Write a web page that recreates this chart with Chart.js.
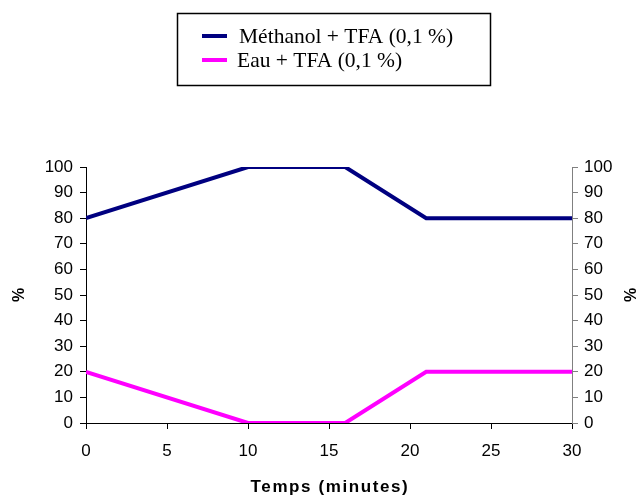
<!DOCTYPE html>
<html>
<head>
<meta charset="utf-8">
<script src="https://cdn.jsdelivr.net/npm/chart.js@4.4.0/dist/chart.umd.min.js"></script>
<style>
  html, body { margin: 0; padding: 0; background: #fff; }
  #wrap { width: 640px; height: 495px; position: relative; }
</style>
</head>
<body>
<div id="wrap"><canvas id="c" width="640" height="495"></canvas></div>
<script>
// Data
const timeMinutes = [0, 10, 16, 21, 30];
const methanolTFA = [80, 100, 100, 80, 80];
const eauTFA = [20, 0, 0, 20, 20];
const seriesLabels = ['Méthanol + TFA (0,1 %)', 'Eau + TFA (0,1 %)'];
const xTitle = 'Temps (minutes)';
const yTitle = '%';

const toPoints = (xs, ys) => xs.map((x, i) => ({ x: x, y: ys[i] }));

const boxLegend = {
  id: 'boxLegend',
  afterDraw(chart) {
    const ctx = chart.ctx;
    ctx.save();
    // legend box
    ctx.strokeStyle = '#000';
    ctx.lineWidth = 1.5;
    ctx.strokeRect(177.5, 13.5, 313, 72);
    ctx.font = '21.5px "Liberation Serif", "Times New Roman", serif';
    ctx.textBaseline = 'middle';
    ctx.textAlign = 'left';
    const rows = [
      { y: 36, textX: 239 },
      { y: 60, textX: 237 }
    ];
    chart.data.datasets.forEach((ds, i) => {
      const r = rows[i];
      ctx.strokeStyle = ds.borderColor;
      ctx.lineWidth = 4;
      ctx.beginPath();
      ctx.moveTo(202, r.y);
      ctx.lineTo(227, r.y);
      ctx.stroke();
      ctx.fillStyle = '#000';
      ctx.fillText(ds.label, r.textX, r.y + 1);
    });
    // right axis title, same orientation as the left one
    const y2 = chart.scales.y2;
    ctx.font = 'bold 16px "Liberation Sans", Arial, sans-serif';
    ctx.textAlign = 'center';
    ctx.textBaseline = 'middle';
    ctx.save();
    ctx.translate(632, (y2.top + y2.bottom) / 2);
    ctx.rotate(-Math.PI / 2);
    ctx.fillText(yTitle, 0, 0);
    ctx.restore();
    // x axis title with letter spacing
    const xs = chart.scales.x;
    ctx.font = 'bold 17px "Liberation Sans", Arial, sans-serif';
    ctx.letterSpacing = '1.6px';
    ctx.fillText(xTitle, (xs.left + xs.right) / 2 + 1, 487);
    ctx.restore();
  }
};

const tickFont = { family: '"Liberation Sans", Arial, sans-serif', size: 17 };

new Chart(document.getElementById('c'), {
  type: 'line',
  data: {
    datasets: [
      {
        label: seriesLabels[0],
        data: toPoints(timeMinutes, methanolTFA),
        borderColor: '#000080',
        backgroundColor: '#000080',
        borderWidth: 4,
        pointRadius: 0,
        tension: 0,
        borderJoinStyle: 'miter',
        yAxisID: 'y'
      },
      {
        label: seriesLabels[1],
        data: toPoints(timeMinutes, eauTFA),
        borderColor: '#FF00FF',
        backgroundColor: '#FF00FF',
        borderWidth: 4,
        pointRadius: 0,
        tension: 0,
        borderJoinStyle: 'miter',
        yAxisID: 'y'
      }
    ]
  },
  options: {
    responsive: false,
    animation: false,
    devicePixelRatio: 1,
    layout: { padding: { left: 0, right: 0, top: 167, bottom: 0 } },
    plugins: {
      legend: { display: false },
      tooltip: { enabled: false }
    },
    scales: {
      x: {
        type: 'linear',
        min: 0,
        max: 30,
        ticks: { stepSize: 5, color: '#000', font: tickFont, padding: 12, maxRotation: 0 },
        grid: { drawOnChartArea: false, drawTicks: true, tickLength: 6, color: '#000' },
        border: { display: true, color: '#000', width: 1 },
        title: { display: false, text: xTitle },
        afterFit(scale) { scale.height = 72; }
      },
      y: {
        position: 'left',
        min: 0,
        max: 100,
        ticks: { stepSize: 10, color: '#000', font: tickFont, padding: 7 },
        grid: { drawOnChartArea: false, drawTicks: true, tickLength: 6, color: '#000' },
        border: { display: true, color: '#000', width: 1 },
        title: {
          display: true,
          text: yTitle,
          color: '#000',
          font: { family: '"Liberation Sans", Arial, sans-serif', size: 16, weight: 'bold', lineHeight: 1.2 },
          padding: { top: 10, bottom: 0 }
        },
        afterFit(scale) { scale.width = 86; }
      },
      y2: {
        position: 'right',
        display: true,
        min: 0,
        max: 100,
        ticks: { stepSize: 10, color: '#000', font: tickFont, padding: 6 },
        grid: { drawOnChartArea: false, drawTicks: true, tickLength: 6, color: '#808080' },
        border: { display: true, color: '#808080', width: 1 },
        afterFit(scale) { scale.width = 68; }
      }
    }
  },
  plugins: [boxLegend]
});
</script>
</body>
</html>
